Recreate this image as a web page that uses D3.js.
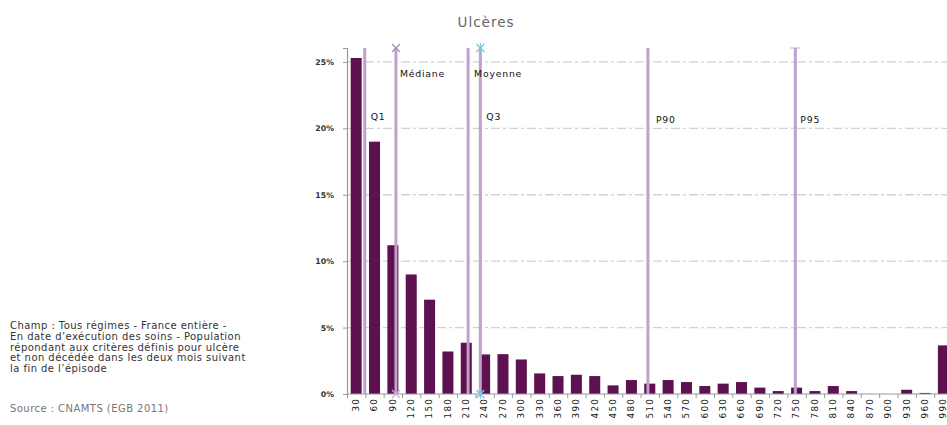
<!DOCTYPE html>
<html>
<head>
<meta charset="utf-8">
<script src="https://cdn.jsdelivr.net/npm/d3@7"></script>
<style>
  body { margin: 0; background: #fff; }
  svg text { font-family: "DejaVu Sans", Verdana, sans-serif; }
</style>
</head>
<body>
<div id="chart"></div>
<script>
//////////////////////////// data /////////////////////////////////////////

const categories = ["30", "60", "90", "120", "150", "180", "210", "240", "270", "300",
  "330", "360", "390", "420", "450", "480", "510", "540", "570", "600", "630", "660",
  "690", "720", "750", "780", "810", "840", "870", "900", "930", "960", "990"];

// share of episodes (%) by duration class
const values = [25.3, 19.0, 11.2, 9.0, 7.1, 3.2, 3.86, 2.98, 3.0, 2.6,
  1.55, 1.35, 1.45, 1.35, 0.65, 1.05, 0.78, 1.05, 0.9, 0.6, 0.78, 0.9,
  0.48, 0.22, 0.48, 0.22, 0.6, 0.22, 0, 0, 0.32, 0.08, 3.66];

const statNames = ["Q1", "Médiane", "Q3", "Moyenne", "P90", "P95"];
const statValues = [44, 95, 213, 233, 507, 748];

const yTicks = [0, 5, 10, 15, 20, 25];

const noteLines = [
  "Champ : Tous régimes - France entière -",
  "En date d’exécution des soins - Population",
  "répondant aux critères définis pour ulcère",
  "et non décédée dans les deux mois suivant",
  "la fin de l’épisode"
];
const source = "Source : CNAMTS (EGB 2011)";

//////////////////////////// layout ///////////////////////////////////////

const width = 947, height = 425;
const plot = { left: 347, top: 48, bottom: 394, step: 18.35 };

const svg = d3.select("#chart").append("svg")
  .attr("width", width).attr("height", height);

const x = d3.scaleBand()
  .domain(categories)
  .range([plot.left, plot.left + plot.step * categories.length])
  .paddingInner(0.4).paddingOuter(0.2);

const y = d3.scaleLinear().domain([0, 26.05]).range([plot.bottom, plot.top]);

// quantile lines live on a continuous scale aligned with band centres
const xv = d3.scaleLinear()
  .domain([+categories[0], +categories[categories.length - 1]])
  .range([x(categories[0]) + x.bandwidth() / 2,
          x(categories[categories.length - 1]) + x.bandwidth() / 2]);

//////////////////////////// title ////////////////////////////////////////

svg.append("text")
  .attr("x", 486).attr("y", 27)
  .attr("text-anchor", "middle")
  .attr("font-size", 13.5)
  .attr("letter-spacing", 1)
  .attr("fill", "#666")
  .text("Ulcères");

//////////////////////////// grid /////////////////////////////////////////

svg.append("g")
  .selectAll("line")
  .data(yTicks.filter(d => d > 0))
  .join("line")
  .attr("x1", plot.left).attr("x2", width)
  .attr("y1", d => y(d)).attr("y2", d => y(d))
  .attr("stroke", "#d2d2d2")
  .attr("stroke-width", 1.3)
  .attr("stroke-dasharray", "9,3,3,3");

//////////////////////////// bars /////////////////////////////////////////

svg.append("g")
  .selectAll("rect")
  .data(values)
  .join("rect")
  .attr("x", (d, i) => x(categories[i]))
  .attr("y", d => y(d))
  .attr("width", x.bandwidth())
  .attr("height", d => plot.bottom - y(d))
  .attr("fill", "#5e1150");

//////////////////////////// axes /////////////////////////////////////////

const yAxis = svg.append("g")
  .attr("transform", `translate(${plot.left},0)`)
  .call(d3.axisLeft(y).tickValues(yTicks).tickFormat(d => d + "%")
    .tickSize(4).tickPadding(9));
yAxis.select(".domain").attr("stroke", "#999").attr("stroke-width", 1.2);
yAxis.selectAll(".tick line").attr("stroke", "#999");
yAxis.selectAll("text")
  .attr("font-size", 7.8).attr("font-weight", "bold").attr("fill", "#333");

const xAxis = svg.append("g")
  .attr("transform", `translate(0,${plot.bottom})`)
  .call(d3.axisBottom(x).tickSize(0).tickPadding(0));
xAxis.select(".domain").remove();
xAxis.append("line")
  .attr("x1", plot.left).attr("x2", width)
  .attr("stroke", "#999").attr("stroke-width", 1.2);
// ticks between categories
xAxis.append("g")
  .selectAll("line")
  .data(categories)
  .join("line")
  .attr("x1", d => x(d) - x.step() * x.paddingInner() / 2 + 0.5)
  .attr("x2", d => x(d) - x.step() * x.paddingInner() / 2 + 0.5)
  .attr("y1", 0).attr("y2", 4)
  .attr("stroke", "#999");
xAxis.selectAll(".tick text")
  .attr("font-size", 8.8)
  .attr("letter-spacing", 1.2)
  .attr("fill", "#222")
  .attr("text-anchor", "end")
  .attr("transform", "translate(0,4) rotate(-90)")
  .attr("dx", 0).attr("dy", "0.32em")
  .attr("x", 0).attr("y", 0);

//////////////////////////// quantile lines ///////////////////////////////

const labelPos = {
  "Q1": { dx: 6, y: 117 },
  "Médiane": { dx: 4, y: 74 },
  "Q3": { dx: 6, y: 74 },
  "Moyenne": { dx: 6, y: 117 },
  "P90": { dx: 8, y: 120 },
  "P95": { dx: 5, y: 120 }
};
// Excel swapped the two labels; keep that appearance
const labelText = { "Q3": "Moyenne", "Moyenne": "Q3" };

const stats = statNames.map((n, i) => ({ name: n, value: statValues[i] }));

svg.append("g")
  .selectAll("line")
  .data(stats)
  .join("line")
  .attr("x1", d => xv(d.value)).attr("x2", d => xv(d.value))
  .attr("y1", plot.top).attr("y2", plot.bottom)
  .attr("stroke", "#c1a0cb")
  .attr("stroke-width", 3);

svg.append("g")
  .selectAll("text")
  .data(stats)
  .join("text")
  .attr("x", d => xv(d.value) + labelPos[d.name].dx)
  .attr("y", d => labelPos[d.name].y)
  .attr("dy", "0.35em")
  .attr("font-size", 9.3)
  .attr("letter-spacing", 0.8)
  .attr("fill", "#111")
  .text(d => labelText[d.name] || d.name);

// markers at line ends
const mk = svg.append("g").attr("fill", "none");
const cross = (cx, cy, r, col, w) => {
  mk.append("path")
    .attr("d", `M${cx - r},${cy - r}L${cx + r},${cy + r}M${cx - r},${cy + r}L${cx + r},${cy - r}`)
    .attr("stroke", col).attr("stroke-width", w);
};
const med = stats.find(d => d.name === "Médiane");
cross(xv(med.value), plot.top, 4, "#a98ab8", 1.2);
cross(xv(med.value), plot.bottom, 4, "#c9b2d3", 1.2);
const moy = stats.find(d => d.name === "Moyenne");
[plot.top, plot.bottom].forEach(cy => {
  cross(xv(moy.value), cy, 4, "#7ec3dc", 1.3);
  mk.append("path")
    .attr("d", `M${xv(moy.value)},${cy - 5}V${cy + 5}`)
    .attr("stroke", "#7ec3dc").attr("stroke-width", 1.2);
});
const p95 = stats.find(d => d.name === "P95");
mk.append("path")
  .attr("d", `M${xv(p95.value) - 5},${plot.top}H${xv(p95.value) + 5}`)
  .attr("stroke", "#b9b2d8").attr("stroke-width", 1);

//////////////////////////// notes ////////////////////////////////////////

svg.append("g")
  .selectAll("text")
  .data(noteLines)
  .join("text")
  .attr("x", 10)
  .attr("y", (d, i) => 329 + i * 10.8)
  .attr("font-size", 10)
  .attr("letter-spacing", 0.45)
  .attr("fill", "#333")
  .text(d => d);

svg.append("text")
  .attr("x", 10).attr("y", 412)
  .attr("font-size", 10)
  .attr("letter-spacing", 0.45)
  .attr("fill", "#777")
  .text(source);
</script>
</body>
</html>
